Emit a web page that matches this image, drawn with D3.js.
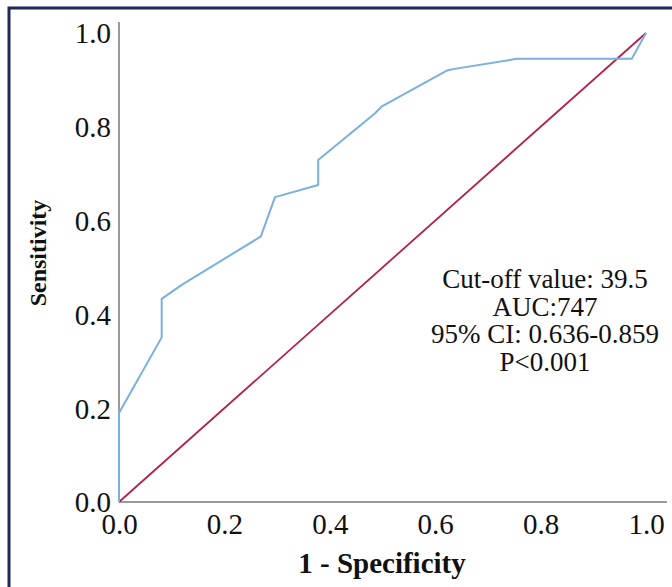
<!DOCTYPE html>
<html>
<head>
<meta charset="utf-8">
<script src="https://cdn.jsdelivr.net/npm/d3@7"></script>
<style>
  html, body { margin: 0; padding: 0; background: #fff; }
  svg { display: block; }
  text { font-family: "Liberation Serif", "Times New Roman", serif; fill: #111; }
</style>
</head>
<body>
<svg id="chart" width="672" height="587"></svg>
<script>
// ROC curve points (1 - specificity, sensitivity)
const rocFpr  = [0, 0, 0.081, 0.081, 0.119, 0.269, 0.296, 0.378, 0.378, 0.486, 0.498, 0.622, 0.634, 0.755, 0.973, 1.0];
const rocTpr  = [0, 0.19, 0.351, 0.433, 0.463, 0.566, 0.650, 0.676, 0.729, 0.829, 0.843, 0.920, 0.923, 0.945, 0.945, 1.0];
// Reference (chance) line
const refFpr = [0, 1];
const refTpr = [0, 1];
// Tick labels
const xTicks = [0, 0.2, 0.4, 0.6, 0.8, 1.0];
const yTicks = [0, 0.2, 0.4, 0.6, 0.8, 1.0];
// Annotation lines
const annotation = ["Cut-off value: 39.5", "AUC:747", "95% CI: 0.636-0.859", "P<0.001"];
const xTitle = "1 - Specificity";
const yTitle = "Sensitivity";

const svg = d3.select("#chart");

// frame
svg.append("rect")
  .attr("x", 9).attr("y", 8)
  .attr("width", 700).attr("height", 620)
  .attr("fill", "#fff")
  .attr("stroke", "#1d2b5a")
  .attr("stroke-width", 3);

const x = d3.scaleLinear().domain([0, 1]).range([119, 646]);
const y = d3.scaleLinear().domain([0, 1]).range([502, 33]);

// axis lines
svg.append("line")
  .attr("x1", x(0)).attr("x2", 667)
  .attr("y1", y(0)).attr("y2", y(0))
  .attr("stroke", "#9a9a9a").attr("stroke-width", 2);
svg.append("line")
  .attr("x1", x(0)).attr("x2", x(0))
  .attr("y1", y(0)).attr("y2", 22)
  .attr("stroke", "#9a9a9a").attr("stroke-width", 2);

// axes (labels only)
const fmt = d3.format(".1f");
const xAxis = svg.append("g")
  .attr("transform", `translate(0,${y(0)})`)
  .call(d3.axisBottom(x).tickValues(xTicks).tickFormat(fmt).tickSize(0).tickPadding(0));
xAxis.select(".domain").remove();
xAxis.selectAll("text")
  .attr("y", 32).attr("dy", null)
  .style("font-family", '"Liberation Serif", serif')
  .style("font-size", "29px").attr("fill", "#111");

const yAxis = svg.append("g")
  .attr("transform", `translate(${x(0)},0)`)
  .call(d3.axisLeft(y).tickValues(yTicks).tickFormat(fmt).tickSize(0).tickPadding(0));
yAxis.select(".domain").remove();
yAxis.selectAll("text")
  .attr("x", -8).attr("dy", "0.34em")
  .style("font-family", '"Liberation Serif", serif')
  .style("font-size", "29px").attr("fill", "#111");

// reference line
const line = d3.line().x(d => x(d[0])).y(d => y(d[1]));
svg.append("path")
  .datum(d3.zip(refFpr, refTpr))
  .attr("d", line)
  .attr("fill", "none")
  .attr("stroke", "#b3204d")
  .attr("stroke-width", 1.8);

// ROC curve
svg.append("path")
  .datum(d3.zip(rocFpr, rocTpr))
  .attr("d", line)
  .attr("fill", "none")
  .attr("stroke", "#7aafe0")
  .attr("stroke-width", 2)
  .attr("stroke-linejoin", "round");

// annotation
svg.append("g")
  .selectAll("text")
  .data(annotation)
  .join("text")
  .attr("x", 545)
  .attr("y", (d, i) => 288 + i * 27.5)
  .attr("text-anchor", "middle")
  .style("font-size", "27px")
  .text(d => d);

// axis titles
svg.append("text")
  .attr("x", 382).attr("y", 573)
  .attr("text-anchor", "middle")
  .style("font-size", "29px")
  .style("font-weight", "bold")
  .text(xTitle);

svg.append("text")
  .attr("transform", "translate(46,253) rotate(-90)")
  .attr("text-anchor", "middle")
  .style("font-size", "24px")
  .style("font-weight", "bold")
  .text(yTitle);
</script>
</body>
</html>
